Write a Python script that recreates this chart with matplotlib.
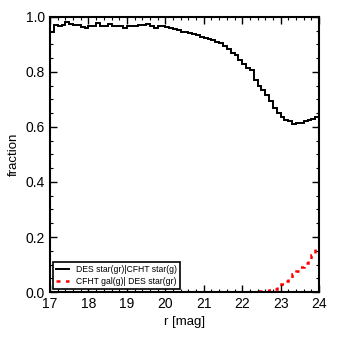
import numpy as np
import matplotlib
matplotlib.use("Agg")
import matplotlib.pyplot as plt
from matplotlib.ticker import MultipleLocator

plt.rcParams['font.family'] = ['Liberation Sans', 'DejaVu Sans']

# bins in r magnitude (0.1 mag wide)
mag_lo = 17.0
mag_hi = 24.0
edges = np.linspace(mag_lo, mag_hi, 71)

# DES star(gr) | CFHT star(g)
frac_star = [
    0.945, 0.970, 0.968, 0.970, 0.982, 0.975, 0.972, 0.972, 0.965, 0.958,  # 17.x
    0.968, 0.968, 0.977, 0.966, 0.966, 0.976, 0.966, 0.966, 0.966, 0.960,  # 18.x
    0.966, 0.966, 0.966, 0.972, 0.970, 0.975, 0.966, 0.960, 0.966, 0.966,  # 19.x
    0.962, 0.958, 0.955, 0.952, 0.946, 0.944, 0.942, 0.937, 0.933, 0.928,  # 20.x
    0.925, 0.920, 0.915, 0.910, 0.905, 0.895, 0.885, 0.870, 0.860, 0.845,  # 21.x
    0.830, 0.815, 0.808, 0.770, 0.750, 0.735, 0.715, 0.695, 0.670, 0.650,  # 22.x
    0.635, 0.625, 0.620, 0.610, 0.615, 0.615, 0.620, 0.625, 0.630, 0.635,  # 23.x
]

# CFHT gal(g) | DES star(gr)
frac_gal = [0.0] * 54 + [
    0.002, 0.003, 0.005, 0.008, 0.012, 0.020,                              # 22.4-22.9
    0.030, 0.040, 0.050, 0.065, 0.078, 0.090, 0.105, 0.120, 0.135, 0.155,  # 23.x
]

fig = plt.figure(figsize=(3.38, 3.38), dpi=100)
ax = fig.add_axes([0.148, 0.136, 0.796, 0.814])

ax.stairs(frac_star, edges, baseline=None, color='k', lw=1.4,
          label='DES star(gr)|CFHT star(g)')
ax.stairs(frac_gal, edges, baseline=None, color='red', lw=1.8,
          linestyle=(0, (1.6, 2.2)), label='CFHT gal(g)| DES star(gr)')

ax.set_xlim(mag_lo, mag_hi)
ax.set_ylim(0.0, 1.0)
ax.xaxis.set_major_locator(MultipleLocator(1))
ax.xaxis.set_minor_locator(MultipleLocator(0.2))
ax.yaxis.set_major_locator(MultipleLocator(0.2))
ax.yaxis.set_minor_locator(MultipleLocator(0.05))
ax.tick_params(which='both', direction='in', top=True, right=True, labelsize=10)
ax.tick_params(which='major', length=5, width=1)
ax.tick_params(which='minor', length=2.5, width=0.8)
for sp in ax.spines.values():
    sp.set_linewidth(1.5)

ax.set_xlabel('r [mag]', fontsize=9.5)
ax.set_ylabel('fraction', fontsize=9.5)

leg = ax.legend(loc='lower left', fontsize=6.2, fancybox=False, framealpha=1,
                edgecolor='k', handlelength=1.6, borderaxespad=0.3,
                borderpad=0.35, labelspacing=0.35)
leg.get_frame().set_linewidth(1.2)

fig.savefig('out.png', dpi=100)
